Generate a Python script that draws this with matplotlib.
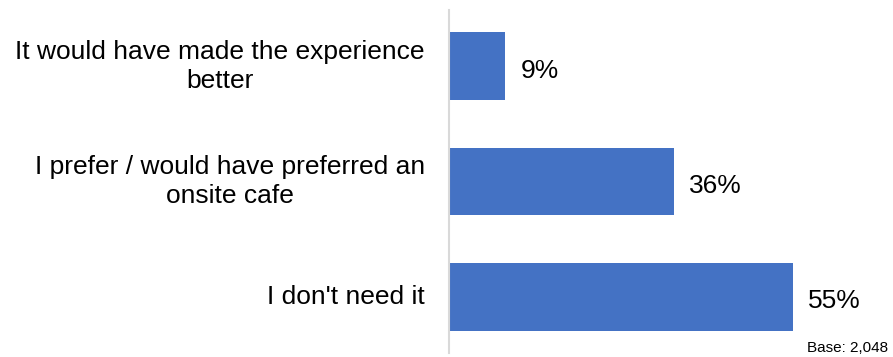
import matplotlib.pyplot as plt

plt.rcParams['font.family'] = ['Liberation Sans', 'DejaVu Sans']

categories = ["It would have made the experience\nbetter",
              "I prefer / would have preferred an\nonsite cafe",
              "I don't need it"]
values = [9, 36, 55]
base_note = "Base: 2,048"

bar_color = "#4472C4"

fig = plt.figure(figsize=(8.93, 3.57), dpi=100)
# axes spans from the vertical axis line to the right edge
ax = fig.add_axes([449 / 893, 1 - 353 / 357, 444 / 893, 343 / 357])

y = list(range(len(categories)))
ax.barh(y, values, height=0.59, color=bar_color)
ax.set_xlim(0, 444 / 6.25)
ax.set_ylim(len(categories) - 0.51, -0.49)

for yi, v in zip(y, values):
    ax.annotate(f"{v}%", (v, yi), xytext=(11, -3), textcoords="offset points",
                ha="left", va="center", fontsize=19)

for yi, lab in zip(y, categories):
    ax.text(-24 / 444, yi, lab, transform=ax.get_yaxis_transform(),
            ha="right", va="center", ma="center", fontsize=19, linespacing=1.25)

for s in ["top", "right", "bottom"]:
    ax.spines[s].set_visible(False)
ax.spines["left"].set_color("#d9d9d9")
ax.spines["left"].set_linewidth(1.5)
ax.set_xticks([])
ax.set_yticks([])

fig.text(888 / 893, 1 - 348 / 357, base_note, ha="right", va="center", fontsize=11)

fig.savefig("out.png", dpi=100)
